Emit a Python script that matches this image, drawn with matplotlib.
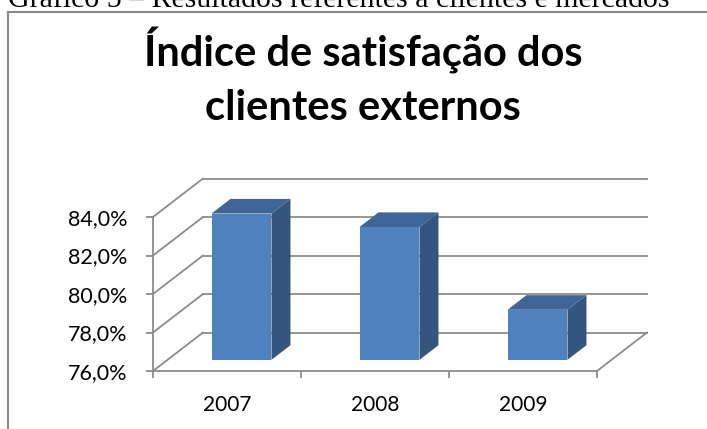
import matplotlib
matplotlib.use('Agg')
import matplotlib.pyplot as plt
from matplotlib.patches import Polygon
from matplotlib.lines import Line2D

anos = ['2007', '2008', '2009']
satisfacao = [83.6, 82.9, 78.6]
ticks_y = [76, 78, 80, 82, 84]
rotulos_y = ['76,0%', '78,0%', '80,0%', '82,0%', '84,0%']
titulo = 'Índice de satisfação dos\nclientes externos'
legenda_grafico = 'Gráfico 5 – Resultados referentes a clientes e mercados'

plt.rcParams['font.family'] = ['Lato', 'DejaVu Sans']

W, H = 707, 429
fig = plt.figure(figsize=(W / 100, H / 100), dpi=100)

# eixo em unidades de categoria (x) e % (y); profundidade desenhada em obliquo
x0, x1 = -0.5, 3.0
y0, y1 = 75, 87
px_cat = 148
px_val = 19.25
base_px = 371 + (76 - y0) * px_val
ax = fig.add_axes([153 / W, (H - base_px) / H,
                   (x1 - x0) * px_cat / W, (y1 - y0) * px_val / H])
ax.set_xlim(x0, x1)
ax.set_ylim(y0, y1)
ax.patch.set_alpha(0)

dxc = 50 / px_cat   # deslocamento da profundidade total em x
dv = 2.0            # e em y
cinza = '#8c8c8c'
lw = 1.3
lo, hi = ticks_y[0], ticks_y[-1]
n = len(anos)

# parede lateral e parede do fundo
for v in ticks_y:
    ax.add_line(Line2D([-0.5, -0.5 + dxc], [v, v + dv], color=cinza, lw=lw, clip_on=False))
    ax.add_line(Line2D([-0.5 + dxc, n - 0.5 + dxc], [v + dv, v + dv], color=cinza, lw=lw, clip_on=False))
# chão, lado direito
ax.add_line(Line2D([n - 0.5, n - 0.5 + dxc], [lo, lo + dv], color=cinza, lw=lw, clip_on=False))

# barras 3D
w = 0.405
d0, d1 = 0.29, 0.67
ddx, ddy = (d1 - d0) * dxc, (d1 - d0) * dv
for i, v in enumerate(satisfacao):
    xa = i - w / 2 + d0 * dxc
    xb = i + w / 2 + d0 * dxc
    yb = lo + d0 * dv
    yt = v + d0 * dv
    ax.add_patch(Polygon([(xb, yb), (xb + ddx, yb + ddy), (xb + ddx, yt + ddy), (xb, yt)],
                         closed=True, facecolor='#34557d', edgecolor='none', zorder=3))
    ax.add_patch(Polygon([(xa, yt), (xb, yt), (xb + ddx, yt + ddy), (xa + ddx, yt + ddy)],
                         closed=True, facecolor='#3e6596', edgecolor='none', zorder=3))
    ax.add_patch(Polygon([(xa, yb), (xb, yb), (xb, yt), (xa, yt)],
                         closed=True, facecolor='#4f81bd', edgecolor='none', zorder=4))

# eixos frontais
for s in ['top', 'right']:
    ax.spines[s].set_visible(False)
ax.spines['left'].set_position(('data', -0.5))
ax.spines['left'].set_bounds(lo, hi)
ax.spines['bottom'].set_position(('data', lo))
ax.spines['bottom'].set_bounds(-0.5, n - 0.5)
for s in ['left', 'bottom']:
    ax.spines[s].set_color(cinza)
    ax.spines[s].set_linewidth(lw)

ax.set_yticks(ticks_y, rotulos_y)
ax.tick_params(axis='y', length=5, width=lw, color=cinza, pad=13.5, labelsize=15.5)
ax.set_xticks(range(n), anos)
ax.set_xticks([i - 0.5 for i in range(n + 1)], minor=True)
ax.tick_params(axis='x', which='major', length=0, pad=17, labelsize=15)
ax.tick_params(axis='x', which='minor', length=5, width=lw, color=cinza)

# título
linhas = titulo.split('\n')
fig.text(363 / W, 1 - 67 / H, linhas[0], ha='center', va='baseline',
         fontsize=30, fontweight='bold')
fig.text(363 / W, 1 - 120 / H, linhas[1], ha='center', va='baseline',
         fontsize=30, fontweight='bold')

# moldura do gráfico e legenda do documento (cortada no topo, como na imagem)
fig.add_artist(Line2D([8 / W, 8 / W], [0, 1 - 12 / H], color='#8a8a8a', lw=1.5))
fig.add_artist(Line2D([8 / W, 1], [1 - 12 / H, 1 - 12 / H], color='#8a8a8a', lw=1.5))
fig.text(8 / W, 1 - 7 / H, legenda_grafico, family='Liberation Serif', fontsize=21.55,
         va='baseline', ha='left')

fig.savefig('out.png', dpi=100)
